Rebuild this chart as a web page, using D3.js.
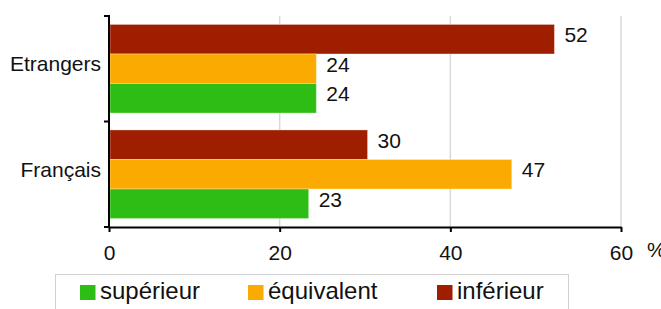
<!DOCTYPE html>
<html>
<head>
<meta charset="utf-8">
<script src="https://cdn.jsdelivr.net/npm/d3@7"></script>
<style>
  body { margin: 0; background: #fff; }
  text { font-family: "Liberation Sans", Arial, sans-serif; fill: #111; }
</style>
</head>
<body>
<svg id="chart"></svg>
<script>
const categories = ["Etrangers", "Français"]
const seriesNames = ["inférieur", "équivalent", "supérieur"]
const legendOrder = ["supérieur", "équivalent", "inférieur"]
const colors = ["#a01e00", "#faaa00", "#2ebd14"]
// values per category, in seriesNames order
const etrangersValues = [52.2, 24.3, 24.3]
const francaisValues = [30.3, 47.2, 23.4]
const xTicks = [0, 20, 40, 60]

const SIZE = { width: 661, height: 309 }
const PLOT = { left: 109, right: 621, top: 16, bottom: 227 }

const rows = [
  { cat: categories[0], values: etrangersValues },
  { cat: categories[1], values: francaisValues },
]

const svg = d3.select("svg#chart").attr("width", SIZE.width).attr("height", SIZE.height)

const x = d3.scaleLinear().domain([0, 60]).range([PLOT.left, PLOT.right])
const y = d3.scaleBand().domain(categories).range([PLOT.top, PLOT.bottom])
  .paddingInner(0.16).paddingOuter(0.08)
const ySub = d3.scaleBand().domain(seriesNames).range([0, y.bandwidth()])
const color = d3.scaleOrdinal().domain(seriesNames).range(colors)

// grid lines
svg.append("g").selectAll("line").data(xTicks.slice(1)).enter().append("line")
  .attr("x1", d => x(d)).attr("x2", d => x(d))
  .attr("y1", PLOT.top).attr("y2", PLOT.bottom)
  .attr("stroke", "#d9d9d9").attr("stroke-width", 1.5)

// bars
const groups = svg.append("g").selectAll("g").data(rows).enter().append("g")
  .attr("transform", d => `translate(0, ${y(d.cat)})`)
groups.selectAll("rect").data(d => d.values.map((v, i) => ({ key: seriesNames[i], value: v })))
  .enter().append("rect")
  .attr("x", x(0) + 1)
  .attr("y", d => ySub(d.key))
  .attr("width", d => x(d.value) - x(0) - 1)
  .attr("height", ySub.bandwidth())
  .attr("fill", d => color(d.key))
  .attr("stroke", "rgba(255,255,255,0.35)").attr("stroke-width", 1)
groups.selectAll("text").data(d => d.values.map((v, i) => ({ key: seriesNames[i], value: v })))
  .enter().append("text")
  .attr("x", d => x(d.value) + 10)
  .attr("y", d => ySub(d.key) + ySub.bandwidth() / 2)
  .attr("dy", "0.15em")
  .attr("font-size", 21)
  .text(d => Math.round(d.value))

// y axis
const yAxis = svg.append("g")
yAxis.append("line").attr("x1", PLOT.left).attr("x2", PLOT.left)
  .attr("y1", PLOT.top - 1).attr("y2", PLOT.bottom)
  .attr("stroke", "#000").attr("stroke-width", 2)
const bounds = [PLOT.top, PLOT.top + y.step(), PLOT.bottom]
yAxis.selectAll(".tick").data(bounds).enter().append("line")
  .attr("x1", PLOT.left - 5).attr("x2", PLOT.left)
  .attr("y1", d => d).attr("y2", d => d)
  .attr("stroke", "#000").attr("stroke-width", 2)
yAxis.selectAll("text").data(categories).enter().append("text")
  .attr("x", 101)
  .attr("y", d => y(d) + y.bandwidth() / 2 - 5)
  .attr("dy", "0.36em")
  .attr("text-anchor", "end")
  .attr("font-size", 21)
  .text(d => d)

// x axis
const xAxis = d3.axisBottom(x).tickValues(xTicks).tickSize(5).tickSizeOuter(0).tickPadding(13)
const xG = svg.append("g").attr("transform", `translate(0, ${PLOT.bottom})`).call(xAxis)
xG.select(".domain").attr("stroke", "#000").attr("stroke-width", 2)
xG.selectAll(".tick line").attr("stroke", "#000").attr("stroke-width", 2)
xG.selectAll(".tick text").attr("font-size", 21).attr("font-family", "Liberation Sans, Arial, sans-serif").attr("fill", "#111")
svg.append("text").attr("x", 647).attr("y", 257).attr("font-size", 21).text("%")

// legend
const legend = svg.append("g")
legend.append("rect").attr("x", 55.5).attr("y", 274.5).attr("width", 513).attr("height", 40)
  .attr("fill", "none").attr("stroke", "#d0d0d0")
const legendX = [80, 248, 437]
const items = legend.selectAll("g").data(legendOrder).enter().append("g")
  .attr("transform", (d, i) => `translate(${legendX[i]}, 285)`)
items.append("rect").attr("width", 15.5).attr("height", 15).attr("fill", d => color(d))
items.append("text").attr("x", 20).attr("y", 14).attr("font-size", 24).text(d => d)
</script>
</body>
</html>
